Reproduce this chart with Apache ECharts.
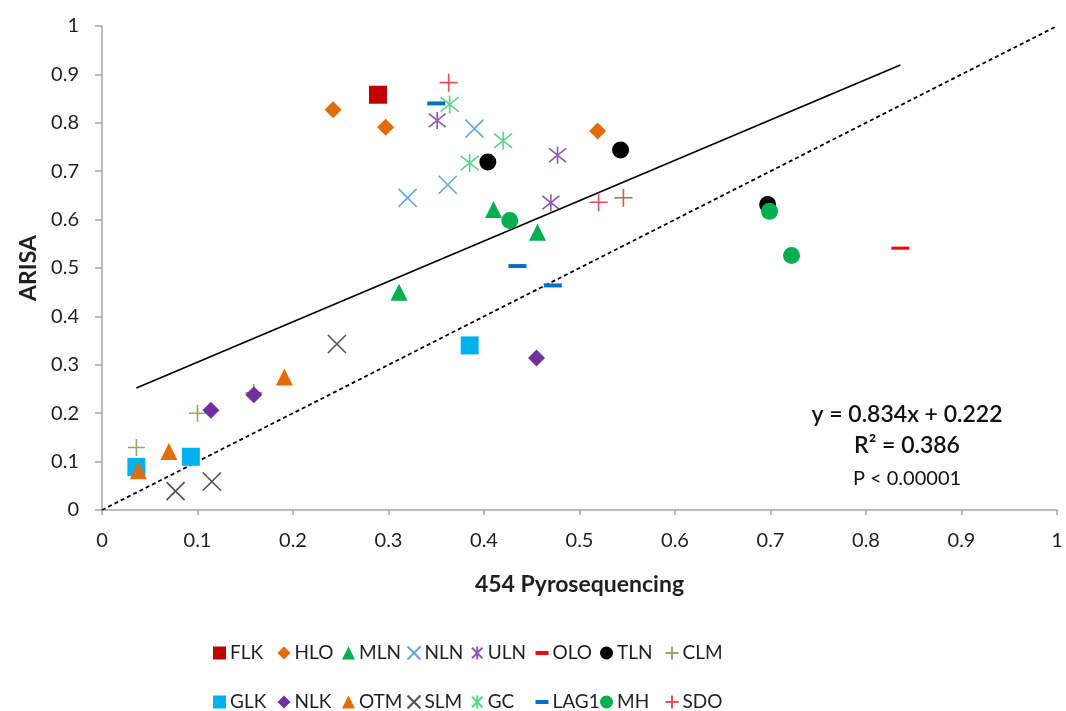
<!DOCTYPE html>
<html><head><meta charset="utf-8">
<script src="https://cdn.jsdelivr.net/npm/echarts@6/dist/echarts.min.js"></script>
<style>html,body{margin:0;padding:0;background:#fff}#c{width:1066px;height:711px}</style>
</head><body><div id="c"></div>
<script>
// ---- data ----
const seriesNames = ['FLK','HLO','MLN','NLN','ULN','OLO','TLN','CLM','GLK','NLK','OTM','SLM','GC','LAG1','MH','SDO'];
const FLK  = [[0.289,0.858]];
const HLO  = [[0.242,0.827],[0.297,0.791],[0.519,0.783]];
const MLN  = [[0.410,0.621],[0.456,0.574],[0.311,0.450]];
const NLN  = [[0.320,0.645],[0.362,0.672],[0.390,0.788]];
const ULN  = [[0.351,0.805],[0.477,0.733],[0.470,0.635]];
const OLO  = [[0.836,0.541]];
const TLN  = [[0.404,0.719],[0.543,0.744],[0.697,0.631]];
const CLM  = [[0.036,0.129],[0.100,0.200],[0.159,0.242]];
const GLK  = [[0.036,0.089],[0.093,0.110],[0.385,0.340]];
const NLK  = [[0.114,0.206],[0.159,0.238],[0.455,0.314]];
const OTM  = [[0.038,0.081],[0.070,0.121],[0.191,0.275]];
const SLM  = [[0.077,0.039],[0.115,0.059],[0.246,0.343]];
const GC   = [[0.364,0.838],[0.420,0.763],[0.385,0.717]];
const LAG1 = [[0.350,0.840],[0.435,0.504],[0.472,0.464]];
const MH   = [[0.427,0.598],[0.699,0.617],[0.722,0.526]];
const SDO  = [[0.363,0.883],[0.520,0.636],[0.546,0.645]];
const allData = {FLK,HLO,MLN,NLN,ULN,OLO,TLN,CLM,GLK,NLK,OTM,SLM,GC,LAG1,MH,SDO};
const slope = 0.834, intercept = 0.222;
const eqLines = ['y = 0.834x + 0.222', 'R² = 0.386', 'P < 0.00001'];
const xTitle = '454 Pyrosequencing', yTitle = 'ARISA';

// ---- styles ----
const FONT = 'Lato, "Noto Sans", sans-serif';
const TXT = '#1f1f1f';
const X_PATH = 'path://M-10,-10L10,10M-10,10L10,-10';
const PLUS_PATH = 'path://M0,-10L0,10M-10,0L10,0';
const AST_PATH = 'path://M0,-10L0,10M-8,-8L8,8M-8,8L8,-8';
const styles = {
  FLK:{symbol:'rect',size:18,color:'#C00000'},
  HLO:{symbol:'diamond',size:17,color:'#E36C09'},
  MLN:{symbol:'triangle',size:17,color:'#00B050'},
  NLN:{symbol:X_PATH,size:18,color:'#3F8EDC',stroke:true},
  ULN:{symbol:AST_PATH,size:17,color:'#7030A0',stroke:true},
  OLO:{symbol:'rect',size:[18,3],color:'#FF0000',dash:true},
  TLN:{symbol:'circle',size:17,color:'#000000'},
  CLM:{symbol:PLUS_PATH,size:17,color:'#77933C',stroke:true},
  GLK:{symbol:'rect',size:18,color:'#00B0F0'},
  NLK:{symbol:'diamond',size:17,color:'#7030A0'},
  OTM:{symbol:'triangle',size:17,color:'#E36C09'},
  SLM:{symbol:X_PATH,size:18,color:'#262626',stroke:true},
  GC:{symbol:AST_PATH,size:18,color:'#2FCB6A',stroke:true},
  LAG1:{symbol:'rect',size:[18,4],color:'#0070C0',dash:true},
  MH:{symbol:'circle',size:17,color:'#00B050'},
  SDO:{symbol:PLUS_PATH,size:18,color:'#E0242A',stroke:true}
};

const allX = Object.values(allData).flat().map(p=>p[0]);
const xmin = Math.min(...allX), xmax = Math.max(...allX);
const trend = [[xmin, slope*xmin+intercept],[xmax, slope*xmax+intercept]];

const series = [
  {type:'line',data:[[0,0],[1,1]],symbol:'none',silent:true,
   lineStyle:{color:'#000',width:1.8,type:[4,3]},z:1},
  {type:'line',data:trend,symbol:'none',silent:true,
   lineStyle:{color:'#000',width:1.6},z:1}
];
seriesNames.forEach(n=>{
  const s = styles[n];
  series.push({
    name:n,type:'scatter',data:allData[n],symbol:s.symbol,symbolSize:s.size,
    itemStyle: s.stroke ? {color:'transparent',borderColor:s.color,borderWidth:1.6}
                        : {color:s.color,opacity:1},
    emphasis:{disabled:true},z:3
  });
});

const legends = seriesNames.map((n,i)=>{
  const dash = styles[n].dash;
  return {
    data:[n], left: 213 + (i%8)*64.5, top: (i<8 ? 653 : 702) - 11,
    itemWidth: 13, itemHeight: dash ? 4 : 13, itemGap:0, padding:0,
    textStyle:{fontFamily:FONT,fontSize:19,color:TXT,padding:[0,0,0,-1],lineHeight:22},
    selectedMode:false
  };
});

const chart = echarts.init(document.getElementById('c'),null,{renderer:'canvas'});
chart.setOption({
  animation:false,
  grid:{left:102,right:9,top:26,bottom:201,containLabel:false},
  xAxis:{type:'value',min:0,max:1,interval:0.1,
    name:xTitle,nameLocation:'middle',nameGap:63,
    nameTextStyle:{fontFamily:FONT,fontSize:23,fontWeight:'bold',color:TXT},
    axisLine:{show:true,lineStyle:{color:'#A6A6A6',width:1.5}},
    axisTick:{show:true,length:5,lineStyle:{color:'#A6A6A6',width:1.5}},
    splitLine:{show:false},
    axisLabel:{fontFamily:FONT,fontSize:20,color:TXT,margin:21,
      formatter:v=>+v.toFixed(1)+''}},
  yAxis:{type:'value',min:0,max:1,interval:0.1,
    name:yTitle,nameLocation:'middle',nameGap:57,
    nameTextStyle:{fontFamily:FONT,fontSize:23,fontWeight:'bold',color:TXT},
    axisLine:{show:true,lineStyle:{color:'#A6A6A6',width:1.5}},
    axisTick:{show:true,length:7,lineStyle:{color:'#A6A6A6',width:1.5}},
    splitLine:{show:false},
    axisLabel:{fontFamily:FONT,fontSize:20,color:TXT,margin:23,
      formatter:v=>+v.toFixed(1)+''}},
  legend:legends,
  graphic:[
    {type:'text',style:{text:eqLines[0],x:907,y:415,textAlign:'center',textVerticalAlign:'middle',
      font:'600 23px '+FONT,fill:'#111'}},
    {type:'text',style:{text:eqLines[1],x:907,y:446,textAlign:'center',textVerticalAlign:'middle',
      font:'600 23px '+FONT,fill:'#111'}},
    {type:'text',style:{text:eqLines[2],x:907,y:479,textAlign:'center',textVerticalAlign:'middle',
      font:'20px '+FONT,fill:'#111'}}
  ],
  series
});
</script></body></html>
